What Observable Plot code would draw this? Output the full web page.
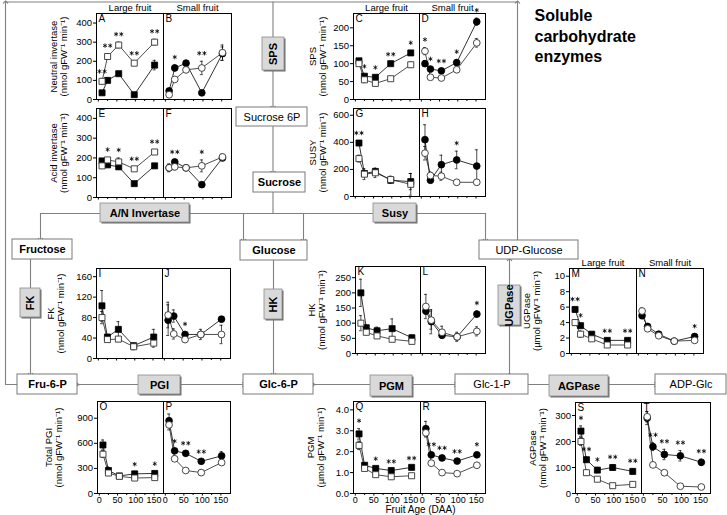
<!DOCTYPE html>
<html><head><meta charset="utf-8">
<script src="https://cdn.jsdelivr.net/npm/d3@7"></script>
<script src="https://cdn.jsdelivr.net/npm/@observablehq/plot@0.6"></script>
<style>
body{margin:0;background:#fff;font-family:"Liberation Sans",Arial,sans-serif;}
#root{position:relative;width:727px;height:515px;overflow:hidden;background:#fff;}
#root svg{position:absolute;overflow:visible;}
</style></head><body><div id="root"></div>
<script>
// ---------- data ----------
const ages = [10, 25, 55, 97, 152];
const xMajor = [0, 50, 100, 150];
const xMinor = [25, 75, 125];
const sizeLabels = ["Large fruit", "Small fruit"];

// Neutral invertase
const A_fill = [35, 100, 135, 25, 180], A_open = [95, 225, 285, 190, 300];
const A_fillErr = [8, 12, 10, 6, 25], A_openErr = [10, 15, 15, 10, 15];
const A_stars = ["**", "**", "**", "**", "**"];
const B_fill = [45, 165, 190, 35, 240], B_open = [25, 105, 155, 165, 245];
const B_fillErr = [10, 15, 15, 8, 35], B_openErr = [8, 12, 12, 35, 40];
const B_stars = ["", "*", "", "**", ""];
// SPS
const C_fill = [108, 65, 62, 100, 130], C_open = [100, 55, 45, 58, 97];
const C_fillErr = [4, 5, 5, 4, 6], C_openErr = [5, 8, 4, 4, 7];
const C_stars = ["", "*", "*", "**", "*"];
const D_fill = [100, 85, 80, 103, 217], D_open = [135, 62, 60, 83, 158];
const D_fillErr = [8, 6, 5, 8, 10], D_openErr = [10, 6, 6, 6, 12];
const D_stars = ["*", "*", "**", "*", "*"];
// Acid invertase
const E_fill = [185, 165, 155, 70, 160], E_open = [160, 190, 180, 145, 230];
const E_fillErr = [10, 8, 12, 6, 8], E_openErr = [10, 12, 20, 10, 12];
const E_stars = ["", "*", "*", "**", "**"];
const F_fill = [150, 180, 150, 65, 200], F_open = [150, 155, 150, 160, 205];
const F_fillErr = [15, 10, 10, 6, 12], F_openErr = [20, 15, 10, 30, 15];
const F_stars = ["", "**", "", "*", ""];
// SUSY
const G_fill = [395, 170, 185, 120, 110], G_open = [280, 165, 175, 125, 90];
const G_fillErr = [15, 20, 20, 20, 60], G_openErr = [25, 40, 35, 25, 80];
const G_stars = ["**", "", "", "", ""];
const H_fill = [420, 120, 235, 270, 225], H_open = [320, 155, 150, 105, 105];
const H_fillErr = [110, 15, 70, 65, 120], H_openErr = [50, 25, 30, 10, 15];
const H_stars = ["", "", "", "*", ""];
// FK
const I_fill = [103, 42, 57, 25, 42], I_open = [80, 37, 38, 23, 30];
const I_fillErr = [30, 5, 15, 5, 15], I_openErr = [12, 4, 5, 6, 8];
const I_stars = ["", "", "", "", ""];
const J_fill = [75, 83, 47, 47, 77], J_open = [85, 48, 37, 47, 47];
const J_fillErr = [30, 12, 5, 5, 5], J_openErr = [25, 10, 5, 10, 18];
const J_stars = ["", "", "*", "", ""];
// HK
const K_fill = [200, 85, 75, 82, 52], K_open = [100, 70, 58, 47, 40];
const K_fillErr = [45, 8, 12, 32, 8], K_openErr = [25, 8, 8, 6, 6];
const K_stars = ["", "", "", "", ""];
const L_fill = [140, 105, 60, 55, 130], L_open = [155, 110, 70, 55, 73];
const L_fillErr = [10, 40, 8, 10, 10], L_openErr = [40, 30, 20, 15, 15];
const L_stars = ["", "", "", "", "*"];
// UGPase
const M_fill = [5.7, 3.6, 2.5, 1.7, 1.7], M_open = [4.0, 2.5, 1.9, 1.1, 1.1];
const M_fillErr = [0.3, 0.3, 0.2, 0.2, 0.2], M_openErr = [0.3, 0.4, 0.2, 0.3, 0.3];
const M_stars = ["**", "*", "", "**", "**"];
const N_fill = [4.9, 3.5, 2.5, 1.6, 2.2], N_open = [5.5, 3.2, 2.3, 1.6, 1.7];
const N_fillErr = [0.4, 0.3, 0.2, 0.2, 0.3], N_openErr = [0.4, 0.3, 0.2, 0.2, 0.2];
const N_stars = ["", "", "", "", "*"];
// PGI
const O_fill = [580, 275, 210, 235, 240], O_open = [470, 245, 205, 185, 190];
const O_fillErr = [60, 40, 20, 20, 20], O_openErr = [40, 20, 15, 20, 20];
const O_stars = ["", "", "", "*", "*"];
const P_fill = [870, 510, 480, 385, 450], P_open = [820, 415, 275, 250, 370];
const P_fillErr = [80, 20, 25, 20, 50], P_openErr = [60, 30, 20, 30, 20];
const P_stars = ["", "*", "**", "**", ""];
// PGM
const Q_fill = [2.85, 1.35, 1.2, 1.1, 1.25], Q_open = [2.3, 1.2, 0.9, 0.8, 0.85];
const Q_fillErr = [0.25, 0.1, 0.08, 0.05, 0.06], Q_openErr = [0.2, 0.06, 0.05, 0.04, 0.04];
const Q_stars = ["*", "", "*", "**", "**"];
const R_fill = [3.1, 1.85, 1.7, 1.55, 1.85], R_open = [2.9, 1.45, 1.0, 0.95, 1.35];
const R_fillErr = [0.35, 0.12, 0.1, 0.08, 0.12], R_openErr = [0.2, 0.1, 0.06, 0.05, 0.05];
const R_stars = ["", "**", "**", "**", "*"];
// AGPase
const S_fill = [240, 130, 90, 100, 85], S_open = [200, 80, 55, 30, 35];
const S_fillErr = [20, 10, 10, 10, 10], S_openErr = [15, 10, 8, 8, 8];
const S_stars = ["*", "**", "*", "**", "**"];
const T_fill = [290, 180, 150, 145, 120], T_open = [295, 110, 80, 28, 25];
const T_fillErr = [25, 15, 20, 20, 12], T_openErr = [20, 10, 8, 6, 6];
const T_stars = ["", "**", "**", "**", "**"];

const panelData = {
  A: [A_fill, A_open, A_fillErr, A_openErr, A_stars], B: [B_fill, B_open, B_fillErr, B_openErr, B_stars],
  C: [C_fill, C_open, C_fillErr, C_openErr, C_stars], D: [D_fill, D_open, D_fillErr, D_openErr, D_stars],
  E: [E_fill, E_open, E_fillErr, E_openErr, E_stars], F: [F_fill, F_open, F_fillErr, F_openErr, F_stars],
  G: [G_fill, G_open, G_fillErr, G_openErr, G_stars], H: [H_fill, H_open, H_fillErr, H_openErr, H_stars],
  I: [I_fill, I_open, I_fillErr, I_openErr, I_stars], J: [J_fill, J_open, J_fillErr, J_openErr, J_stars],
  K: [K_fill, K_open, K_fillErr, K_openErr, K_stars], L: [L_fill, L_open, L_fillErr, L_openErr, L_stars],
  M: [M_fill, M_open, M_fillErr, M_openErr, M_stars], N: [N_fill, N_open, N_fillErr, N_openErr, N_stars],
  O: [O_fill, O_open, O_fillErr, O_openErr, O_stars], P: [P_fill, P_open, P_fillErr, P_openErr, P_stars],
  Q: [Q_fill, Q_open, Q_fillErr, Q_openErr, Q_stars], R: [R_fill, R_open, R_fillErr, R_openErr, R_stars],
  S: [S_fill, S_open, S_fillErr, S_openErr, S_stars], T: [T_fill, T_open, T_fillErr, T_openErr, T_stars]
};

const nmol = "(nmol gFW\u207B\u00B9 min\u207B\u00B9)";
const umol = "(\u00B5mol gFW\u207B\u00B9 min\u207B\u00B9)";

// layout of panel pairs: frame [left, top, right, bottom], mid = shared border
const pairs = [
  {L: "A", R: "B", name: "Neutral invertase", unit: nmol, yMax: 450, yTicks: [0, 100, 200, 300, 400], frame: [96, 13, 231, 99], mid: 163, titleDx: -38, sizes: true},
  {L: "E", R: "F", name: "Acid invertase", unit: nmol, yMax: 450, yTicks: [0, 100, 200, 300, 400], frame: [96, 108, 231, 197], mid: 163, titleDx: -38},
  {L: "C", R: "D", name: "SPS", unit: nmol, yMax: 240, yTicks: [0, 50, 100, 150, 200], frame: [353, 13, 485, 99], mid: 419, titleDx: -36, sizes: true},
  {L: "G", R: "H", name: "SUSY", unit: nmol, yMax: 650, yTicks: [0, 200, 400, 600], frame: [353, 108, 485, 196], mid: 419, titleDx: -36},
  {L: "I", R: "J", name: "FK", unit: nmol, yMax: 176, yTicks: [0, 40, 80, 120, 160], frame: [96, 268, 230, 358], mid: 162, titleDx: -41},
  {L: "K", R: "L", name: "HK", unit: nmol, yMax: 287, yTicks: [0, 50, 100, 150, 200, 250], frame: [355, 266, 485, 353], mid: 420, titleDx: -39},
  {L: "M", R: "N", name: "UGPase", unit: umol, yMax: 11, yTicks: [0, 2, 4, 6, 8, 10], frame: [569, 268, 703, 353], mid: 636, titleDx: -38, sizes: true},
  {L: "O", R: "P", name: "Total PGI", unit: nmol, yMax: 1100, yTicks: [0, 300, 600, 900], frame: [97, 401, 230, 493], mid: 163, titleDx: -44, xLabels: true},
  {L: "Q", R: "R", name: "PGM", unit: umol, yMax: 4.4, yTicks: [0, 1, 2, 3, 4], frame: [353, 401, 485, 493], mid: 420, titleDx: -38, xLabels: true, xTitle: "Fruit Age (DAA)"},
  {L: "S", R: "T", name: "AGPase", unit: nmol, yMax: 350, yTicks: [0, 100, 200, 300], frame: [575, 402, 710, 493], mid: 641, titleDx: -38, xLabels: true}
];

// diagram boxes (layout)
const metaboliteBoxes = [
  {label: "Sucrose 6P", x1: 236, x2: 307, y1: 107, y2: 126, bold: false},
  {label: "Sucrose", x1: 253, x2: 305, y1: 172, y2: 192, bold: true},
  {label: "Fructose", x1: 12, x2: 72, y1: 239, y2: 259, bold: true},
  {label: "Glucose", x1: 240, x2: 307, y1: 240, y2: 260, bold: true},
  {label: "UDP-Glucose", x1: 479, x2: 578, y1: 240, y2: 259, bold: false},
  {label: "Fru-6-P", x1: 17, x2: 77, y1: 374, y2: 394, bold: true},
  {label: "Glc-6-P", x1: 243, x2: 313, y1: 374, y2: 394, bold: true},
  {label: "Glc-1-P", x1: 455, x2: 528, y1: 374, y2: 394, bold: false},
  {label: "ADP-Glc", x1: 655, x2: 726, y1: 374, y2: 394, bold: false}
];
const enzymeBoxes = [
  {label: "SPS", x1: 262, x2: 284, y1: 37, y2: 70, rot: -90},
  {label: "A/N Invertase", x1: 100, x2: 189, y1: 203, y2: 222, rot: 0},
  {label: "Susy", x1: 373, x2: 416, y1: 203, y2: 222, rot: 0},
  {label: "FK", x1: 20, x2: 40, y1: 288, y2: 317, rot: -90},
  {label: "HK", x1: 264, x2: 282, y1: 289, y2: 319, rot: -90},
  {label: "UGPase", x1: 498, x2: 520, y1: 285, y2: 325, rot: -90},
  {label: "PGI", x1: 138, x2: 180, y1: 375, y2: 394, rot: 0},
  {label: "PGM", x1: 370, x2: 412, y1: 375, y2: 396, rot: 0},
  {label: "AGPase", x1: 549, x2: 608, y1: 375, y2: 396, rot: 0}
];
// connectors: [points], arrowheads
const connectors = [
  {id: "loopL", pts: [[17, 384], [5, 384], [5, 1.5]], m: "end"},
  {id: "top", pts: [[5, 1.5], [517, 1.5]], m: "none"},
  {id: "udpUp", pts: [[517, 240], [517, 1.5]], m: "end"},
  {id: "sps", pts: [[272.5, 1.5], [272.5, 107]], m: "end"},
  {id: "s6p", pts: [[272.5, 126], [272.5, 172]], m: "end"},
  {id: "suc", pts: [[272.5, 192], [272.5, 213]], m: "none"},
  {id: "hline", pts: [[40, 213], [485, 213]], m: "none"},
  {id: "toFru", pts: [[40, 213], [40, 239]], m: "end"},
  {id: "toGlc1", pts: [[243, 213], [243, 240]], m: "end"},
  {id: "toGlc2", pts: [[303, 213], [303, 240]], m: "end"},
  {id: "toUDP", pts: [[485, 213], [485, 240]], m: "end"},
  {id: "fk", pts: [[30, 259], [30, 374]], m: "end"},
  {id: "hk", pts: [[273, 260], [273, 374]], m: "end"},
  {id: "ugp", pts: [[509, 374], [509, 259]], m: "both"},
  {id: "pgi", pts: [[77, 384], [243, 384]], m: "both"},
  {id: "pgm", pts: [[313, 384], [455, 384]], m: "both"},
  {id: "agp", pts: [[528, 384], [655, 384]], m: "end"}
];
const titleText = "Soluble\ncarbohydrate\nenzymes";

// ---------- drawing ----------
const root = document.getElementById("root");
const FONT = "'Liberation Sans', Arial, sans-serif";

function connRows(kind) {
  return connectors.filter(c => c.m === kind).flatMap(c => c.pts.map(([x, y]) => ({id: c.id, x, y})));
}
const lineStyle = {x: "x", y: "y", z: "id", stroke: "#808080", strokeWidth: 1.1};
const bg = Plot.plot({
  width: 727, height: 515, margin: 0,
  x: {domain: [0, 727], range: [0, 727], axis: null},
  y: {domain: [0, 515], range: [0, 515], axis: null},
  style: {fontFamily: FONT, background: "transparent", color: "#000"},
  marks: [
    Plot.line(connRows("none"), lineStyle),
    Plot.line(connRows("end"), {...lineStyle, markerEnd: "arrow"}),
    Plot.line(connRows("both"), {...lineStyle, markerStart: "arrow", markerEnd: "arrow"}),
    Plot.rect(metaboliteBoxes, {x1: "x1", x2: "x2", y1: "y1", y2: "y2", fill: "#fff", stroke: "#7a7a7a", strokeWidth: 1}),
    Plot.rect(enzymeBoxes, {x1: "x1", x2: "x2", y1: "y1", y2: "y2", fill: "#6e6e6e", dx: 1.5, dy: 1.5}),
    Plot.rect(enzymeBoxes, {x1: "x1", x2: "x2", y1: "y1", y2: "y2", fill: "#d9d9d9", stroke: "#8a8a8a", strokeWidth: 0.8}),
    Plot.text(metaboliteBoxes.filter(d => d.bold), {x: d => (d.x1 + d.x2) / 2, y: d => (d.y1 + d.y2) / 2, text: "label", fontSize: 11, fontWeight: "bold", fill: "#000"}),
    Plot.text(metaboliteBoxes.filter(d => !d.bold), {x: d => (d.x1 + d.x2) / 2, y: d => (d.y1 + d.y2) / 2, text: "label", fontSize: 11, fill: "#000"}),
    Plot.text(enzymeBoxes, {x: d => (d.x1 + d.x2) / 2, y: d => (d.y1 + d.y2) / 2, text: "label", rotate: "rot", fontSize: 11, fontWeight: "bold", fill: "#000"}),
    Plot.text([titleText], {x: () => 534, y: () => 6, textAnchor: "start", lineAnchor: "top", fontSize: 16, fontWeight: "bold", lineHeight: 1.28, fill: "#000"})
  ]
});
bg.style.left = "0px"; bg.style.top = "0px";
root.appendChild(bg);

function panel(cfg, side) {
  const letter = side === "L" ? cfg.L : cfg.R;
  const [fill, open, fillErr, openErr, stars] = panelData[letter];
  const [fl, ft, fr, fb] = cfg.frame;
  const x0 = side === "L" ? fl : cfg.mid, x1 = side === "L" ? cfg.mid : fr;
  const ml = side === "L" ? 66 : 0, mr = 0, mt = 16, mb = cfg.xTitle ? 26 : 16;
  const fillRows = ages.map((age, i) => ({age, v: fill[i], e: fillErr[i]}));
  const openRows = ages.map((age, i) => ({age, v: open[i], e: openErr[i]}));
  const allRows = fillRows.concat(openRows);
  const starRows = ages.map((age, i) => ({age, v: Math.max(fill[i] + fillErr[i], open[i] + openErr[i]), n: stars[i].length}));
  const star1 = starRows.filter(s => s.n === 1), star2 = starRows.filter(s => s.n === 2);
  const starStyle = {x: "age", y: "v", symbol: "asterisk", r: 2.1, stroke: "#000", strokeWidth: 0.8, dy: -8};
  const sym = side === "L" ? "square" : "circle";
  const marks = [
    Plot.axisX({ticks: xMajor, tickSize: 2.5, tickPadding: 0.5, tickFormat: cfg.xLabels ? (t => String(t)) : (() => ""), label: null, fontSize: 9}),
    Plot.axisX({ticks: xMinor, tickSize: 2, tickFormat: () => "", label: null}),
    Plot.line(fillRows, {x: "age", y: "v", stroke: "#000", strokeWidth: 0.8}),
    Plot.line(openRows, {x: "age", y: "v", stroke: "#222", strokeWidth: 0.8}),
    Plot.ruleX(allRows, {x: "age", y1: r => r.v - r.e, y2: r => r.v + r.e, stroke: "#000", strokeWidth: 0.7}),
    Plot.ruleY(allRows, {y: r => r.v + r.e, x1: r => r.age - 4, x2: r => r.age + 4, stroke: "#000", strokeWidth: 0.7}),
    Plot.ruleY(allRows, {y: r => r.v - r.e, x1: r => r.age - 4, x2: r => r.age + 4, stroke: "#000", strokeWidth: 0.7}),
    Plot.dot(fillRows, {x: "age", y: "v", symbol: sym, r: 3.4, fill: "#000", stroke: "#000", strokeWidth: 0.8}),
    Plot.dot(openRows, {x: "age", y: "v", symbol: sym, r: 3.4, fill: "#fff", stroke: "#333", strokeWidth: 0.9}),
    Plot.dot(star1, starStyle),
    Plot.dot(star2, {...starStyle, dx: -2.6}),
    Plot.dot(star2, {...starStyle, dx: 2.6}),
    Plot.text([letter], {frameAnchor: "top-left", dx: 2, dy: 1.5, lineAnchor: "top", fontSize: 10, fill: "#000"}),
    Plot.frame({stroke: "#000", strokeWidth: 1})
  ];
  if (side === "L") {
    marks.push(Plot.axisY({ticks: cfg.yTicks, tickSize: 3, tickPadding: 1.5, label: null, fontSize: 9.5}));
    marks.push(Plot.text([cfg.name + "\n" + cfg.unit], {frameAnchor: "left", textAnchor: "middle", lineAnchor: "middle", rotate: -90, dx: cfg.titleDx, fontSize: 9.5, lineHeight: 1.15, fill: "#000"}));
    if (cfg.xTitle) marks.push(Plot.text([cfg.xTitle], {frameAnchor: "bottom-right", textAnchor: "middle", lineAnchor: "top", dy: 12, fontSize: 10, fill: "#000"}));
  }
  if (cfg.sizes) marks.push(Plot.text([sizeLabels[side === "L" ? 0 : 1]], {frameAnchor: "top", textAnchor: "middle", dy: -3, lineAnchor: "bottom", fontSize: 9.5, fill: "#000"}));
  const svg = Plot.plot({
    width: ml + (x1 - x0) + mr, height: mt + (fb - ft) + mb,
    marginLeft: ml, marginRight: mr, marginTop: mt, marginBottom: mb,
    x: {domain: [-5, 176]},
    y: {domain: [0, cfg.yMax], axis: null},
    style: {fontFamily: FONT, fontSize: "9.5px", background: "transparent", color: "#000", overflow: "visible"},
    marks
  });
  svg.style.left = (x0 - ml) + "px";
  svg.style.top = (ft - mt) + "px";
  root.appendChild(svg);
}
for (const p of pairs) { panel(p, "L"); panel(p, "R"); }
</script>
</body></html>
